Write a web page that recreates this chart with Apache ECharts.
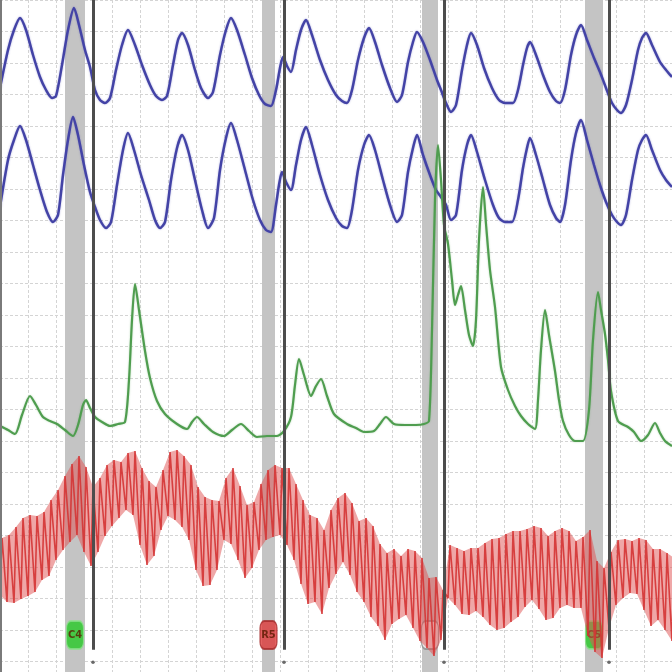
<!DOCTYPE html>
<html>
<head>
<meta charset="utf-8">
<script src="https://cdn.jsdelivr.net/npm/echarts@6/dist/echarts.min.js"></script>
<style>
  html, body { margin: 0; padding: 0; background: #ffffff; }
  #chart { width: 672px; height: 672px; }
</style>
</head>
<body>
<div id="chart"></div>
<script>
// ---------------- DATA ----------------
// Time axis in samples (0..672); one grid division = 28 samples.

// Upper pneumo (thoracic) trace: time and amplitude above its baseline
const p1Time = [0,8,14,20,26,33,40,46,52,56,62,68,74,79,85,90,95,100,105,110,116,122,128,135,142,150,156,162,167,173,178,182,188,195,201,208,213,220,226,231,237,245,252,259,265,271,276,280,283,287,291,296,301,306,312,320,328,336,342,347,352,358,364,369,375,382,390,397,402,408,413,417,423,430,437,441,446,451,456,462,467,471,477,484,492,499,505,513,518,523,527,530,536,543,550,556,560,565,571,576,581,587,594,600,606,612,617,621,626,632,638,642,646,652,660,666,672];
const p1Amp  = [32,70,90,102,90,65,43,30,22,24,55,90,112,95,70,53,30,20,17,22,50,75,90,75,55,35,24,20,24,55,80,87,75,50,32,22,28,65,90,102,90,65,42,25,16,14,30,52,63,54,48,70,90,100,85,60,40,25,19,17,30,60,82,92,78,55,32,18,25,58,78,88,78,60,40,30,17,8,15,50,75,87,75,52,32,20,17,17,30,55,72,78,65,45,28,19,17,30,65,85,95,80,62,48,32,17,10,7,15,40,70,82,87,75,58,50,43];

// Lower pneumo (abdominal) trace
const p2Time = [0,8,14,20,26,33,40,47,53,58,63,68,73,78,84,90,95,100,106,111,117,123,128,134,141,149,155,160,165,171,177,182,188,195,202,208,214,220,226,231,237,245,253,260,266,271,276,279,282,286,291,296,301,306,312,320,328,336,342,347,352,358,364,369,375,383,390,397,402,408,413,417,423,430,436,441,446,451,456,462,467,471,477,485,493,499,505,512,518,523,527,530,536,543,550,556,560,565,571,576,581,587,594,600,606,612,617,621,626,632,638,642,646,652,660,666,672];
const p2Amp  = [33,80,100,114,100,75,50,28,18,25,65,100,123,105,75,48,33,20,12,18,55,90,107,90,65,40,20,12,18,60,92,105,90,60,30,12,22,70,102,117,100,70,40,20,10,8,35,55,68,58,50,75,100,113,95,65,40,22,14,12,30,70,95,105,90,60,35,18,25,68,92,105,85,65,50,43,35,20,25,70,95,105,88,60,35,22,18,18,40,72,92,102,85,60,35,22,18,35,80,107,120,100,75,55,38,25,18,15,25,60,90,100,105,90,70,60,53];

// Electrodermal (EDA) trace
const edaTime = [0,8,15,22,30,36,43,50,57,65,73,78,83,86,90,95,102,110,118,125,129,132,135,139,145,150,157,165,177,187,192,197,204,213,224,232,241,249,257,267,277,284,291,295,299,304,311,316,321,327,334,347,356,364,374,380,386,394,405,416,424,429,432,435,438,441,444,448,452,455,458,461,465,469,473,476,479,483,486,490,495,501,508,515,521,528,535,538,541,545,549,555,559,563,569,575,583,589,593,598,601,605,608,611,618,628,634,641,648,655,660,665,672];
const edaAmp  = [24,20,16,35,54,45,33,29,26,20,14,25,45,50,42,33,28,24,26,28,70,130,166,140,99,72,49,36,26,21,28,33,26,18,14,20,26,19,13,14,14,19,33,65,91,75,54,64,71,54,36,26,22,18,19,26,33,26,25,25,26,29,120,250,305,270,225,206,170,145,155,164,140,115,104,130,210,263,226,180,143,83,60,44,34,26,21,50,100,140,115,79,50,29,15,9,9,40,110,158,140,116,90,59,29,23,18,9,15,27,17,9,4];

// Cardio trace: one entry per heart beat
const cardioBeatTime = [0,7,14,21,28,35,42,49,56,63,70,77,84,91,98,105,112,119,126,133,140,147,154,161,168,175,182,189,196,203,210,217,224,231,238,245,252,259,266,273,280,287,294,301,308,315,322,329,336,343,350,357,364,371,378,385,392,399,406,413,420,427,434,441,448,455,462,469,476,483,490,497,504,511,518,525,532,539,546,553,560,567,574,581,588,595,602,609,616,623,630,637,644,651,658,665,672];
const cardioSystolic  = [132,135,143,152,155,154,158,170,180,194,206,214,203,183,192,205,210,208,217,219,202,189,183,200,218,220,214,205,183,173,170,169,192,202,184,165,168,186,200,205,202,202,186,170,155,152,140,160,172,177,167,149,152,144,126,117,121,114,121,119,112,92,93,80,125,122,119,122,122,127,131,132,136,139,139,141,144,142,134,139,142,139,129,133,140,109,102,118,130,131,129,132,130,121,121,117,112];
const cardioDiastolic = [75,68,67,71,74,78,90,94,110,120,128,135,118,104,118,134,144,152,160,155,125,105,114,140,154,150,143,130,100,84,85,100,130,126,110,92,102,120,130,133,135,125,110,86,66,68,56,82,96,108,95,78,68,53,44,30,46,51,55,42,29,22,14,30,72,65,56,55,59,53,45,40,42,48,53,63,70,61,50,52,62,65,62,62,34,18,12,42,65,72,77,76,60,44,50,40,29];

// Question events: labels, stimulus window and answer marks
const questionLabels = ['C4', 'R5', '', 'C5'];
const questionOnset  = [65, 262, 422, 585];
const questionOffset = [85, 275, 438, 603];
const answerTimes    = [93, 284, 444, 609];

// ---------------- CHART ----------------
const zip = (xs, ys) => xs.map((x, i) => [x, ys[i]]);
const SYS_LAG = 2; // rise time of each beat, in samples
const cardioData = [];
cardioBeatTime.forEach((t, i) => {
  cardioData.push([t, cardioDiastolic[i]]);
  cardioData.push([t + SYS_LAG, cardioSystolic[i]]);
});

const boxColors = ['#27c927', '#dd3b3b', '#f2f2f2', '#27c927'];
const boxBorders = ['#8ee08e', '#a52a2a', '#8a8a8a', '#8ee08e'];

const chart = echarts.init(document.getElementById('chart'), null, { renderer: 'canvas' });

const hidden = { axisLine: { show: false }, axisTick: { show: false }, axisLabel: { show: false }, splitLine: { show: false } };
const gridLine = { show: true, lineStyle: { color: '#d4d4d4', type: [3, 2], width: 1 } };

chart.setOption({
  animation: false,
  backgroundColor: '#ffffff',
  grid: { left: 0, right: 0, top: 0, bottom: 0, containLabel: false },
  xAxis: {
    type: 'value', min: 0, max: 672, interval: 28,
    axisLine: { show: false }, axisTick: { show: false }, axisLabel: { show: false },
    splitLine: gridLine
  },
  yAxis: [
    { // chart-paper divisions (from top)
      type: 'value', inverse: true, min: 0, max: 21.3333, interval: 1,
      axisLine: { show: false }, axisTick: { show: false }, axisLabel: { show: false },
      splitLine: gridLine
    },
    Object.assign({ type: 'value', min: -552, max: 120, show: false }, hidden), // upper pneumo
    Object.assign({ type: 'value', min: -432, max: 240, show: false }, hidden), // lower pneumo
    Object.assign({ type: 'value', min: -222, max: 450, show: false }, hidden), // EDA
    Object.assign({ type: 'value', min: -2, max: 670, show: false }, hidden)    // cardio
  ],
  series: [
    {
      name: 'events', type: 'line', yAxisIndex: 0, data: [], z: 1, silent: true,
      markArea: {
        silent: true,
        itemStyle: { color: '#c4c4c4', opacity: 1 },
        data: questionOnset.map((t, i) => [{ xAxis: t }, { xAxis: questionOffset[i] }])
      },
      markLine: {
        silent: true, symbol: ['none', 'none'], label: { show: false },
        lineStyle: { color: '#4d4d4d', width: 3, type: 'solid', opacity: 1 },
        data: answerTimes.map(t => [{ coord: [t, 0] }, { coord: [t, 20.63] }])
          .concat([[{ coord: [1, 0], lineStyle: { color: '#7a7a7a', width: 2 } }, { coord: [1, 21.3333] }]])
      }
    },
    {
      name: 'answerDots', type: 'scatter', yAxisIndex: 0, z: 2, silent: true,
      symbol: 'circle', symbolSize: 3.5, itemStyle: { color: '#444' },
      data: answerTimes.map(t => [t, 21.02])
    },
    {
      name: 'questions', type: 'scatter', yAxisIndex: 0, z: 2, silent: true,
      symbol: 'roundRect',
      data: questionLabels.map((lab, i) => ({
        value: [(questionOnset[i] + questionOffset[i]) / 2, 20.16],
        symbolSize: [17, 28],
        itemStyle: { color: boxColors[i], borderColor: boxBorders[i], borderWidth: 1.5 },
        label: { show: true, formatter: lab, color: '#5a1a00', fontSize: 11, fontWeight: 'bold', fontFamily: 'DejaVu Sans Condensed, DejaVu Sans' }
      }))
    },
    {
      name: 'Upper pneumo', type: 'line', yAxisIndex: 1, z: 3, showSymbol: false, smooth: 0.25,
      lineStyle: { color: '#4343a6', width: 2.5, shadowColor: 'rgba(80,80,180,0.45)', shadowBlur: 2 },
      data: zip(p1Time, p1Amp)
    },
    {
      name: 'Lower pneumo', type: 'line', yAxisIndex: 2, z: 3, showSymbol: false, smooth: 0.25,
      lineStyle: { color: '#4343a6', width: 2.5, shadowColor: 'rgba(80,80,180,0.45)', shadowBlur: 2 },
      data: zip(p2Time, p2Amp)
    },
    {
      name: 'EDA', type: 'line', yAxisIndex: 3, z: 3, showSymbol: false, smooth: 0.25,
      lineStyle: { color: '#4f9d4f', width: 2.2, shadowColor: 'rgba(80,160,80,0.4)', shadowBlur: 2 },
      data: zip(edaTime, edaAmp)
    },
    {
      name: 'Cardio band', type: 'custom', yAxisIndex: 4, z: 3, silent: true,
      data: [[0, 0]],
      renderItem: function (params, api) {
        const pts = [];
        for (let i = 0; i < cardioBeatTime.length; i++) pts.push(api.coord([cardioBeatTime[i] + SYS_LAG, cardioSystolic[i]]));
        for (let i = cardioBeatTime.length - 1; i >= 0; i--) pts.push(api.coord([cardioBeatTime[i], cardioDiastolic[i]]));
        return { type: 'polygon', shape: { points: pts }, style: { fill: 'rgba(224,80,80,0.5)' } };
      }
    },
    {
      name: 'Cardio', type: 'line', yAxisIndex: 4, z: 4, showSymbol: false, smooth: false,
      lineStyle: { color: '#d43434', width: 1.6, opacity: 0.9 },
      data: cardioData
    }
  ]
});
</script>
</body>
</html>
